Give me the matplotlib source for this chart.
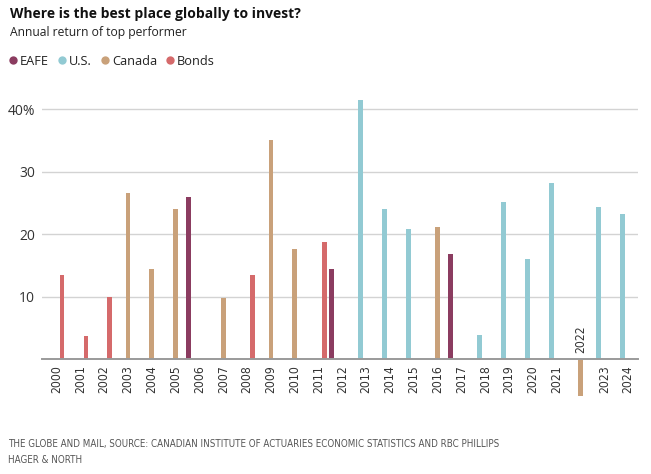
import matplotlib
matplotlib.use("Agg")
import matplotlib.pyplot as plt
from matplotlib.lines import Line2D
from matplotlib import font_manager as fm

years = list(range(2000, 2025))
leaders = ['Bonds', 'Bonds', 'Bonds', 'Canada', 'Canada', 'Canada', 'EAFE', 'Canada',
           'Bonds', 'Canada', 'Canada', 'Bonds', 'EAFE', 'U.S.', 'U.S.', 'U.S.',
           'Canada', 'EAFE', 'U.S.', 'U.S.', 'U.S.', 'U.S.', 'Canada', 'U.S.', 'U.S.']
returns = [13.5, 3.8, 10.0, 26.6, 14.4, 24.0, 25.9, 9.8, 13.5, 35.1, 17.6, 18.7, 14.4,
           41.5, 24.0, 20.9, 21.1, 16.8, 3.9, 25.1, 16.0, 28.2, -5.9, 24.3, 23.3]
series = ['EAFE', 'U.S.', 'Canada', 'Bonds']
colors = {'EAFE': '#8b3c60', 'U.S.': '#92cad3', 'Canada': '#c9a17a', 'Bonds': '#d56a6b'}
yticks = [10, 20, 30, 40]
ytick_labels = ['10', '20', '30', '40%']

slot = 0.235
offsets = {'EAFE': -2 * slot, 'U.S.': -1 * slot, 'Canada': 0.0, 'Bonds': 1 * slot}

plt.rcParams['font.family'] = ['Open Sans', 'DejaVu Sans']

# find a narrow font file for the footer / tick labels
narrow_path = None
prefs = ['LiberationSansNarrow-Regular', 'DejaVuSansCondensed.ttf', 'RobotoCondensed-Regular',
         'OpenSans_Condensed-Regular', 'OpenSansCondensed']
paths = [f.fname for f in fm.fontManager.ttflist]
for p in prefs:
    for path in paths:
        if p in path:
            narrow_path = path
            break
    if narrow_path:
        break


def narrow(size):
    if narrow_path:
        return fm.FontProperties(fname=narrow_path, size=size)
    return fm.FontProperties(family='DejaVu Sans', stretch='condensed', size=size)


fig = plt.figure(figsize=(6.51, 4.74), dpi=100)
ax = fig.add_axes([0.0645, 0.156, 0.9155, 0.6398])

xs = [y + offsets[c] for y, c in zip(years, leaders)]
cols = [colors[c] for c in leaders]
ax.bar(xs, returns, width=0.2, color=cols, zorder=3)

ax.set_xlim(1999.39, 2024.41)
ax.set_ylim(-6.5, 42)
ax.set_yticks(yticks)
ax.set_yticklabels(ytick_labels)
ax.yaxis.grid(True, color='#d3d3d3', linewidth=1.0, zorder=0)
for k in ['top', 'left', 'right']:
    ax.spines[k].set_visible(False)
ax.spines['bottom'].set_position(('data', 0))
ax.spines['bottom'].set_color('#9a9a9a')
ax.spines['bottom'].set_linewidth(1.4)
ax.spines['bottom'].set_zorder(4)
ax.tick_params(axis='y', length=0, pad=5, labelsize=10, labelcolor='#333333')

ax.set_xticks(years)
labels = ['' if y == 2022 else str(y) for y in years]
ax.set_xticklabels(labels, rotation=90, color='#333333', fontproperties=narrow(8.7))
ax.tick_params(axis='x', length=0, pad=4)
ax.text(2022, 1.0, '2022', rotation=90, ha='center', va='bottom',
        color='#333333', fontproperties=narrow(8.7))

fig.text(0.015, 0.971, 'Where is the best place globally to invest?', fontsize=10,
         fontweight='bold', color='#111111', va='center', ha='left')
fig.text(0.015, 0.932, 'Annual return of top performer', fontsize=8.7,
         color='#222222', va='center', ha='left')

handles = [Line2D([0], [0], marker='o', linestyle='none', markersize=6,
                  markerfacecolor=colors[s], markeredgecolor='none') for s in series]
fig.legend(handles, series, loc='center left', bbox_to_anchor=(0.015, 0.871), ncol=4,
           frameon=False, fontsize=9.2, handletextpad=0.3, columnspacing=0.77,
           handlelength=0.5, borderaxespad=0, borderpad=0, labelcolor='#222222')

fig.text(0.012, 0.047, 'THE GLOBE AND MAIL, SOURCE: CANADIAN INSTITUTE OF ACTUARIES ECONOMIC STATISTICS AND RBC PHILLIPS\nHAGER & NORTH',
         color='#555555', va='center', ha='left', linespacing=1.75,
         fontproperties=narrow(7))

fig.savefig('out.png', dpi=100)
